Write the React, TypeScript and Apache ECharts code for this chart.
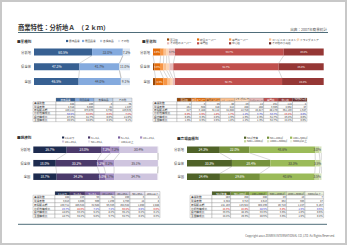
import React, { useEffect, useRef } from "react";
import * as echarts from "echarts";

const FONT = '"Noto Sans CJK JP", "Noto Sans", sans-serif';
const W = 347;
const H = 245;

// ---------- data ----------
const areas = ["分析地", "県全体", "全国"];
const tableRowLabels = ["事業所数", "従業者数", "年間販売額", "分析地構成比", "県内構成比", "全国構成比"];

const tlCategories = ["最寄品業", "買回品業", "各種商品", "その他"];
const tlShares = [
  [60.5, 32.0, 0.3, 7.2],
  [47.3, 41.7, 0.0, 11.0],
  [46.5, 44.0, 0.4, 9.1],
];
const tlStores = [444, 203, 3, 79];
const tlWorkers = [4318, 5003, 81, 1437];
const tlSales = [120111, 473870, 4792, 129578];

const trCategories = ["百貨店", "総合スーパー", "専門スーパー", "コンビニエンスストア", "ドラッグストア", "その他のスーパー", "専門店", "中心店", "その他の小売店"];
const trShares = [
  [0.0, 4.5, 1.8, 1.7, 1.2, 3.7, 63.7, 23.4, 0.0],
  [0.8, 3.3, 2.0, 1.9, 1.6, 2.3, 61.7, 26.4, 0.0],
  [1.5, 4.6, 2.5, 1.8, 1.2, 1.3, 62.7, 24.4, 0.0],
];
const trStores = [1, 3, 45, 40, 29, 12, 261, 114, 2];
const trWorkers = [151, 638, 418, 412, 158, 108, 3306, 2052, 47];
const trSales = [217, 3188, 31112, 41084, 12710, 15817, 88170, 351103, 1647];

const blCategories = ["2人以下", "3～4人", "5～9人", "10～19人", "20～49人", "50～99人", "100人以上"];
const blShares = [
  [26.7, 28.0, 7.2, 7.2, 30.4, 0.5, 0.0],
  [18.0, 33.2, 5.2, 8.2, 35.1, 0.2, 0.1],
  [18.7, 34.2, 5.0, 6.7, 34.7, 0.4, 0.3],
];
const blStores = [284, 226, 63, 61, 200, 3, 2];
const blWorkers = [3013, 4005, 909, 1269, 4703, 14, 8];
const blSales = [130711, 285624, 32584, 56326, 254642, 1850, 2888];

const brCategories = ["50㎡未満", "50～100㎡", "100～500㎡", "500～1000㎡", "1000～3000㎡", "3000㎡以上"];
const brShares = [
  [24.3, 22.0, 48.6, 3.0, 1.6, 0.5],
  [33.3, 28.4, 33.3, 3.5, 1.0, 0.5],
  [24.4, 29.6, 40.6, 3.5, 1.5, 0.4],
];
const brStores = [283, 258, 408, 49, 10, 7];
const brWorkers = [4344, 3713, 4513, 462, 303, 47];
const brSales = [141103, 126522, 404299, 20710, 1227, 5157];

// ---------- styles / layout ----------
const panels = [
  {
    title: "■業種別", titleX: 17, titleY: 41,
    cats: tlCategories, shares: tlShares, stores: tlStores, workers: tlWorkers, sales: tlSales,
    colors: ["#376092", "#84aade", "#b9cde5", "#dbe5f1"],
    grid: { left: 34, top: 44.6, width: 96, height: 44.4 }, barW: 7, labelMin: 3, labelFont: 3.3,
    legendPos: [[66, 41], [82, 41], [100, 41], [118, 41]],
    table: { x0: 33, labelW: 23, colW: 19, y0: 98, headH: 3.7, rowH: 3.33 },
  },
  {
    title: "■業態別", titleX: 142, titleY: 41,
    cats: trCategories, shares: trShares, stores: trStores, workers: trWorkers, sales: trSales,
    colors: ["#984807", "#e46c0a", "#f79646", "#fac090", "#fcd5b5", "#e6b9b8", "#c0504d", "#953735", "#632523"],
    grid: { left: 153, top: 44.6, width: 170.7, height: 44.4 }, barW: 7, labelMin: 3.2, labelFont: 2.5,
    legendPos: [[167, 39.5], [197, 39.5], [229, 39.5], [269, 39.5], [297, 39.5], [167, 43.3], [197, 43.3], [229, 43.3], [269, 43.3]],
    table: { x0: 153, labelW: 24, colW: 14.44, y0: 98, headH: 3.7, rowH: 3.33 },
  },
  {
    title: "■規模別", titleX: 17, titleY: 137.5,
    cats: blCategories, shares: blShares, stores: blStores, workers: blWorkers, sales: blSales,
    colors: ["#1d2b4f", "#4b3a6b", "#7b62a0", "#a793c5", "#cfc5df", "#e5e0ec", "#f4f2f8"],
    grid: { left: 33.3, top: 142.95, width: 125, height: 40.5 }, barW: 6.5, labelMin: 3, labelFont: 3.2,
    legendPos: [[62, 137.5], [88, 137.5], [118, 137.5], [140, 137.5], [62, 141.5], [88, 141.5], [118, 141.5]],
    table: { x0: 33, labelW: 22, colW: 15, y0: 191.5, headH: 3.7, rowH: 3.8 },
  },
  {
    title: "■売場面積別", titleX: 177, titleY: 138,
    cats: brCategories, shares: brShares, stores: brStores, workers: brWorkers, sales: brSales,
    colors: ["#4f6228", "#76923c", "#9bbb59", "#c3d69b", "#d7e4bd", "#ebf1de"],
    grid: { left: 187, top: 142.95, width: 135, height: 40.5 }, barW: 6.5, labelMin: 2.5, labelFont: 3.2,
    legendPos: [[244, 137.7], [267, 137.7], [290, 137.7], [244, 141.3], [267, 141.3], [290, 141.3]],
    table: { x0: 190, labelW: 22, colW: 18.6, y0: 191.5, headH: 3.7, rowH: 3.8 },
  },
];

function isLight(hex: string) {
  const r = parseInt(hex.slice(1, 3), 16), g = parseInt(hex.slice(3, 5), 16), b = parseInt(hex.slice(5, 7), 16);
  return (0.299 * r + 0.587 * g + 0.114 * b) / 255 > 0.62;
}
const fmtInt = (v: number) => v.toLocaleString("en-US");
const fmtPct = (v: number) => v.toFixed(1) + "%";
function textUnits(s: string) {
  let n = 0;
  for (const ch of s) n += ch.charCodeAt(0) > 255 ? 1 : 0.56;
  return n;
}

function buildOption() {
  const series: any[] = [];
  const elements: any[] = [];

  // page frame
  elements.push({ type: "rect", silent: true, shape: { x: 0, y: 0, width: W, height: H }, style: { fill: "none", stroke: "#c8c8c8", lineWidth: 4 } });
  elements.push({ type: "text", silent: true, x: 18, y: 27, style: { text: "商業特性：分析地Ａ　（２ｋｍ）", fontSize: 6.3, fontWeight: "bold", fill: "#333", fontFamily: FONT, verticalAlign: "middle" } });
  elements.push({ type: "text", silent: true, x: 327, y: 29, style: { text: "出典：2007年商業統計", fontSize: 3.6, fill: "#555", fontFamily: FONT, align: "right", verticalAlign: "middle" } });
  elements.push({ type: "line", silent: true, shape: { x1: 18, y1: 32.5, x2: 328, y2: 32.5 }, style: { stroke: "#4f6d7a", lineWidth: 1 } });
  elements.push({ type: "line", silent: true, shape: { x1: 18, y1: 224.3, x2: 327, y2: 224.3 }, style: { stroke: "#4f6d7a", lineWidth: 1 } });
  elements.push({ type: "text", silent: true, x: 335, y: 235.7, style: { text: "Copyright 2013 ZENRIN INTERNATIONAL CO.,LTD. All Rights Reserved.", fontSize: 2.8, fill: "#555", fontFamily: FONT, align: "right", verticalAlign: "middle" } });

  panels.forEach((p, pi) => {
    // bars
    p.cats.forEach((c, k) => {
      const col = p.colors[k];
      series.push({
        name: c, type: "bar", stack: "s" + pi, xAxisIndex: pi, yAxisIndex: pi,
        barWidth: p.barW, data: p.shares.map((r) => r[k]),
        itemStyle: { color: col },
        label: {
          show: true, position: "inside", fontSize: p.labelFont, fontFamily: FONT,
          color: isLight(col) ? "#444" : "#fff",
          formatter: (q: any) => (q.value >= p.labelMin ? fmtPct(q.value) : ""),
        },
      });
    });
    // connectors
    const con: number[][] = [];
    for (let r = 0; r < p.shares.length - 1; r++) {
      let a = 0, b = 0;
      for (let k = 0; k < p.cats.length - 1; k++) {
        a += p.shares[r][k];
        b += p.shares[r + 1][k];
        if (a < 99.95 || b < 99.95) con.push([a, r, b, r + 1]);
      }
    }
    const bw = p.barW;
    series.push({
      type: "custom", xAxisIndex: pi, yAxisIndex: pi, silent: true, z: 1,
      encode: { x: [0, 2], y: [1, 3] },
      data: con,
      renderItem: (_: any, api: any) => {
        const p1 = api.coord([api.value(0), api.value(1)]);
        const p2 = api.coord([api.value(2), api.value(3)]);
        return { type: "line", shape: { x1: p1[0], y1: p1[1] + bw / 2, x2: p2[0], y2: p2[1] - bw / 2 }, style: { stroke: "#a0a0a0", lineWidth: 0.4 } };
      },
    });

    // section title
    elements.push({ type: "text", silent: true, x: p.titleX, y: p.titleY, style: { text: p.title, fontSize: 3.6, fontWeight: "bold", fill: "#333", fontFamily: FONT, verticalAlign: "middle" } });
    // legend
    p.cats.forEach((c, k) => {
      const [lx, ly] = p.legendPos[k];
      elements.push({ type: "rect", silent: true, shape: { x: lx, y: ly - 1.1, width: 2.2, height: 2.2 }, style: { fill: p.colors[k] } });
      elements.push({ type: "text", silent: true, x: lx + 3, y: ly, style: { text: c, fontSize: 2.7, fill: "#444", fontFamily: FONT, verticalAlign: "middle" } });
    });
    // table
    const t = p.table;
    const dx0 = t.x0 + t.labelW;
    p.cats.forEach((c, k) => {
      const x = dx0 + k * t.colW;
      elements.push({ type: "rect", silent: true, shape: { x, y: t.y0, width: t.colW, height: t.headH }, style: { fill: p.colors[k], stroke: "#7f7f7f", lineWidth: 0.3 } });
      const fs = Math.min(2.5, (t.colW * 0.92) / textUnits(c));
      elements.push({ type: "text", silent: true, x: x + t.colW / 2, y: t.y0 + t.headH / 2, style: { text: c, fontSize: fs, fill: isLight(p.colors[k]) ? "#333" : "#fff", fontFamily: FONT, align: "center", verticalAlign: "middle" } });
    });
    const rows: string[][] = [
      p.stores.map(fmtInt),
      p.workers.map(fmtInt),
      p.sales.map(fmtInt),
      ...p.shares.map((r) => r.map(fmtPct)),
    ];
    rows.forEach((row, ri) => {
      const y = t.y0 + t.headH + ri * t.rowH;
      elements.push({ type: "rect", silent: true, shape: { x: t.x0, y, width: t.labelW, height: t.rowH }, style: { fill: "#fff", stroke: "#7f7f7f", lineWidth: 0.3 } });
      const lfs = Math.min(2.7, (t.labelW * 0.9) / textUnits(tableRowLabels[ri]));
      elements.push({ type: "text", silent: true, x: t.x0 + 1, y: y + t.rowH / 2, style: { text: tableRowLabels[ri], fontSize: lfs, fill: "#333", fontFamily: FONT, verticalAlign: "middle" } });
      row.forEach((v, k) => {
        const x = dx0 + k * t.colW;
        elements.push({ type: "rect", silent: true, shape: { x, y, width: t.colW, height: t.rowH }, style: { fill: "#fff", stroke: "#7f7f7f", lineWidth: 0.3 } });
        let fill = "#333";
        if (ri === 3) fill = p.shares[0][k] >= p.shares[2][k] ? "#3535c8" : "#d01010";
        elements.push({ type: "text", silent: true, x: x + t.colW - 0.8, y: y + t.rowH / 2, style: { text: v, fontSize: 2.5, fill, fontFamily: FONT, align: "right", verticalAlign: "middle" } });
      });
    });
  });

  return {
    animation: false,
    backgroundColor: "#ffffff",
    textStyle: { fontFamily: FONT },
    grid: panels.map((p) => ({ ...p.grid, containLabel: false })),
    xAxis: panels.map((_, i) => ({ gridIndex: i, type: "value", min: 0, max: 100, show: false })),
    yAxis: panels.map((_, i) => ({
      gridIndex: i, type: "category", data: areas, inverse: true,
      axisLine: { show: false }, axisTick: { show: false }, splitLine: { show: false },
      axisLabel: { fontSize: 3.3, color: "#333", margin: 3, fontFamily: FONT },
    })),
    series,
    graphic: { elements },
  };
}

export default function App() {
  const ref = useRef<HTMLDivElement>(null);
  useEffect(() => {
    document.body.style.margin = "0";
    const chart = echarts.init(ref.current!, undefined, { renderer: "svg", width: W, height: H });
    chart.setOption(buildOption() as any);
    return () => chart.dispose();
  }, []);
  return <div ref={ref} style={{ width: W, height: H }} />;
}
